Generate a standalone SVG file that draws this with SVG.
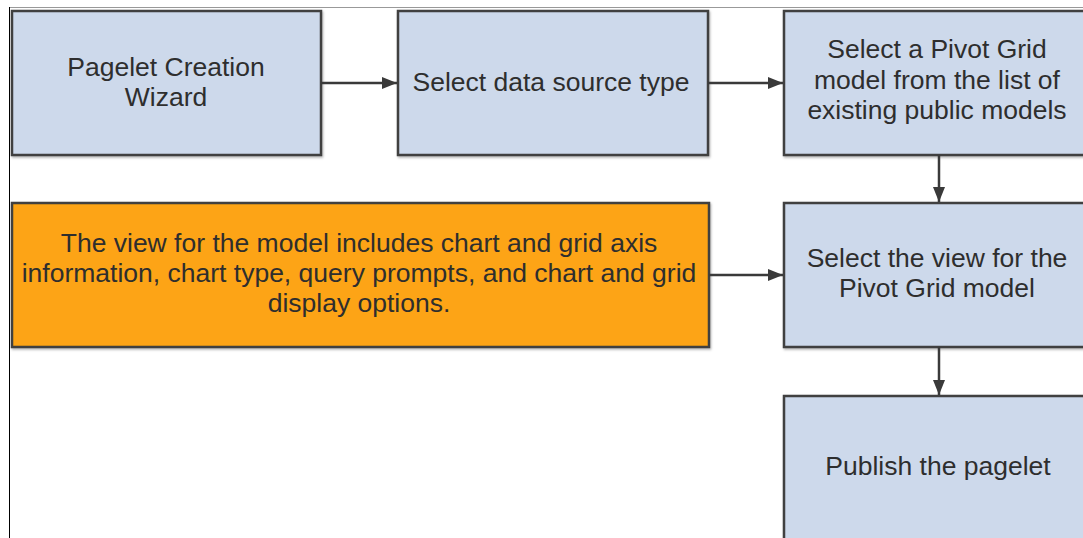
<svg xmlns="http://www.w3.org/2000/svg" width="1083" height="538" viewBox="0 0 1083 538">
<defs>
<marker id="ah" markerWidth="16" markerHeight="14" refX="15" refY="7" orient="auto" markerUnits="userSpaceOnUse" viewBox="0 0 16 14">
<path d="M0,1 L15,7 L0,13 Z" fill="#3a3a3a"/>
</marker>
<filter id="sh" x="-5%" y="-5%" width="110%" height="115%">
<feDropShadow dx="1" dy="1.5" stdDeviation="1" flood-color="#000" flood-opacity="0.3"/>
</filter>
</defs>
<style>
.box{fill:#cdd9eb;stroke:#3f3f3f;stroke-width:2.5;filter:url(#sh)}
.org{fill:#fda413;stroke:#3f3f3f;stroke-width:2.5;filter:url(#sh)}
.t{font-family:"Liberation Sans",Arial,sans-serif;font-size:26.5px;fill:#2e2e2e;text-anchor:middle}
.c{stroke:#3a3a3a;stroke-width:2.5;fill:none;marker-end:url(#ah)}
</style>
<rect width="1083" height="538" fill="#fff"/>
<line x1="9" y1="7.5" x2="1083" y2="7.5" stroke="#999" stroke-width="1"/>
<line x1="9.5" y1="7" x2="9.5" y2="538" stroke="#000" stroke-width="1"/>
<g id="n1"><rect class="box" x="12" y="11" width="309" height="144"/><text class="t" x="166" y="76">Pagelet Creation</text><text class="t" x="166" y="106">Wizard</text></g>
<g id="n2"><rect class="box" x="398" y="11" width="310" height="144"/><text class="t" x="551" y="91">Select data source type</text></g>
<g id="n3"><rect class="box" x="784" y="11" width="310" height="144"/><text class="t" x="937" y="58">Select a Pivot Grid</text><text class="t" x="937" y="89">model from the list of</text><text class="t" x="937" y="119">existing public models</text></g>
<g id="n4"><rect class="org" x="12" y="203" width="697" height="144"/><text class="t" x="359" y="252">The view for the model includes chart and grid axis</text><text class="t" x="359" y="282">information, chart type, query prompts, and chart and grid</text><text class="t" x="359" y="312">display options.</text></g>
<g id="n5"><rect class="box" x="784" y="203" width="310" height="144"/><text class="t" x="937" y="267">Select the view for the</text><text class="t" x="937" y="297">Pivot Grid model</text></g>
<g id="n6"><rect class="box" x="784" y="396" width="310" height="160"/><text class="t" x="938" y="475">Publish the pagelet</text></g>
<g id="connectors">
<line class="c" x1="321" y1="83" x2="397" y2="83"/>
<line class="c" x1="708" y1="83" x2="783" y2="83"/>
<line class="c" x1="939" y1="155" x2="939" y2="202"/>
<line class="c" x1="709" y1="275" x2="783" y2="275"/>
<line class="c" x1="939" y1="347" x2="939" y2="395"/>
</g>
</svg>
